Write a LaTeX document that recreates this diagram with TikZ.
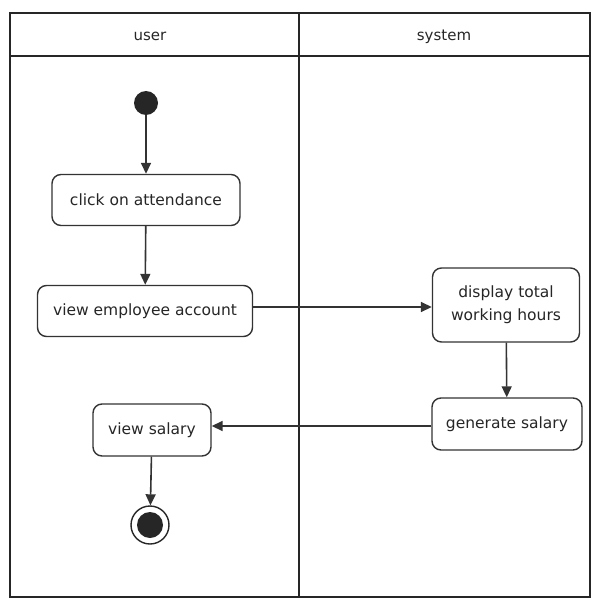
\documentclass[tikz,border=0pt]{standalone}
\usepackage{fontspec}
\setmainfont{DejaVu Sans}
\usetikzlibrary{arrows.meta}
\begin{document}
\begin{tikzpicture}[x=1pt,y=-1pt,
  act/.style={draw=black!80, line width=1.4pt, rounded corners=9pt, fill=white, align=center, font=\fontsize{15.5}{23}\selectfont, text=black!85},
  flow/.style={draw=black!80, line width=1.6pt, -{Triangle[length=11pt,width=10pt]}},
  lane/.style={draw=black!85, line width=1.5pt}]
\useasboundingbox (0,0) rectangle (592,599);
% swimlanes
\draw[lane] (10,13) rectangle (590,597);
\draw[lane] (10,56) -- (590,56);
\draw[lane] (299,13) -- (299,597);
\node[font=\fontsize{15}{18}\selectfont, text=black!85] (huser) at (150,36) {user};
\node[font=\fontsize{15}{18}\selectfont, text=black!85] (hsys) at (444,37) {system};
% nodes
\node[circle, fill=black!85, minimum size=24pt, inner sep=0pt] (start) at (146,103) {};
\node[act, minimum width=188pt, minimum height=51pt] (click) at (146,200) {click on attendance};
\node[act, minimum width=215pt, minimum height=51pt] (vea) at (145,311) {view employee account};
\node[act, minimum width=147pt, minimum height=74pt] (disp) at (506,305) {display total\\working hours};
\node[act, minimum width=150pt, minimum height=52pt] (gen) at (507,424) {generate salary};
\node[act, minimum width=118pt, minimum height=52pt] (vs) at (152,430) {view salary};
\node[circle, draw=black!85, line width=1.4pt, minimum size=38pt, inner sep=0pt, fill=white] (end) at (150,525) {};
\node[circle, fill=black!85, minimum size=26pt, inner sep=0pt] (endin) at (end.center) {};
% connectors
\draw[flow] (start) -- (click);
\draw[flow] (click) -- (vea);
\draw[flow] (vea.east |- 0,307) -- (disp.west |- 0,307);
\draw[flow] (disp) -- (gen);
\draw[flow] (gen.west |- 0,426) -- (vs.east |- 0,426);
\draw[flow] (vs) -- (end);
\end{tikzpicture}
\end{document}
